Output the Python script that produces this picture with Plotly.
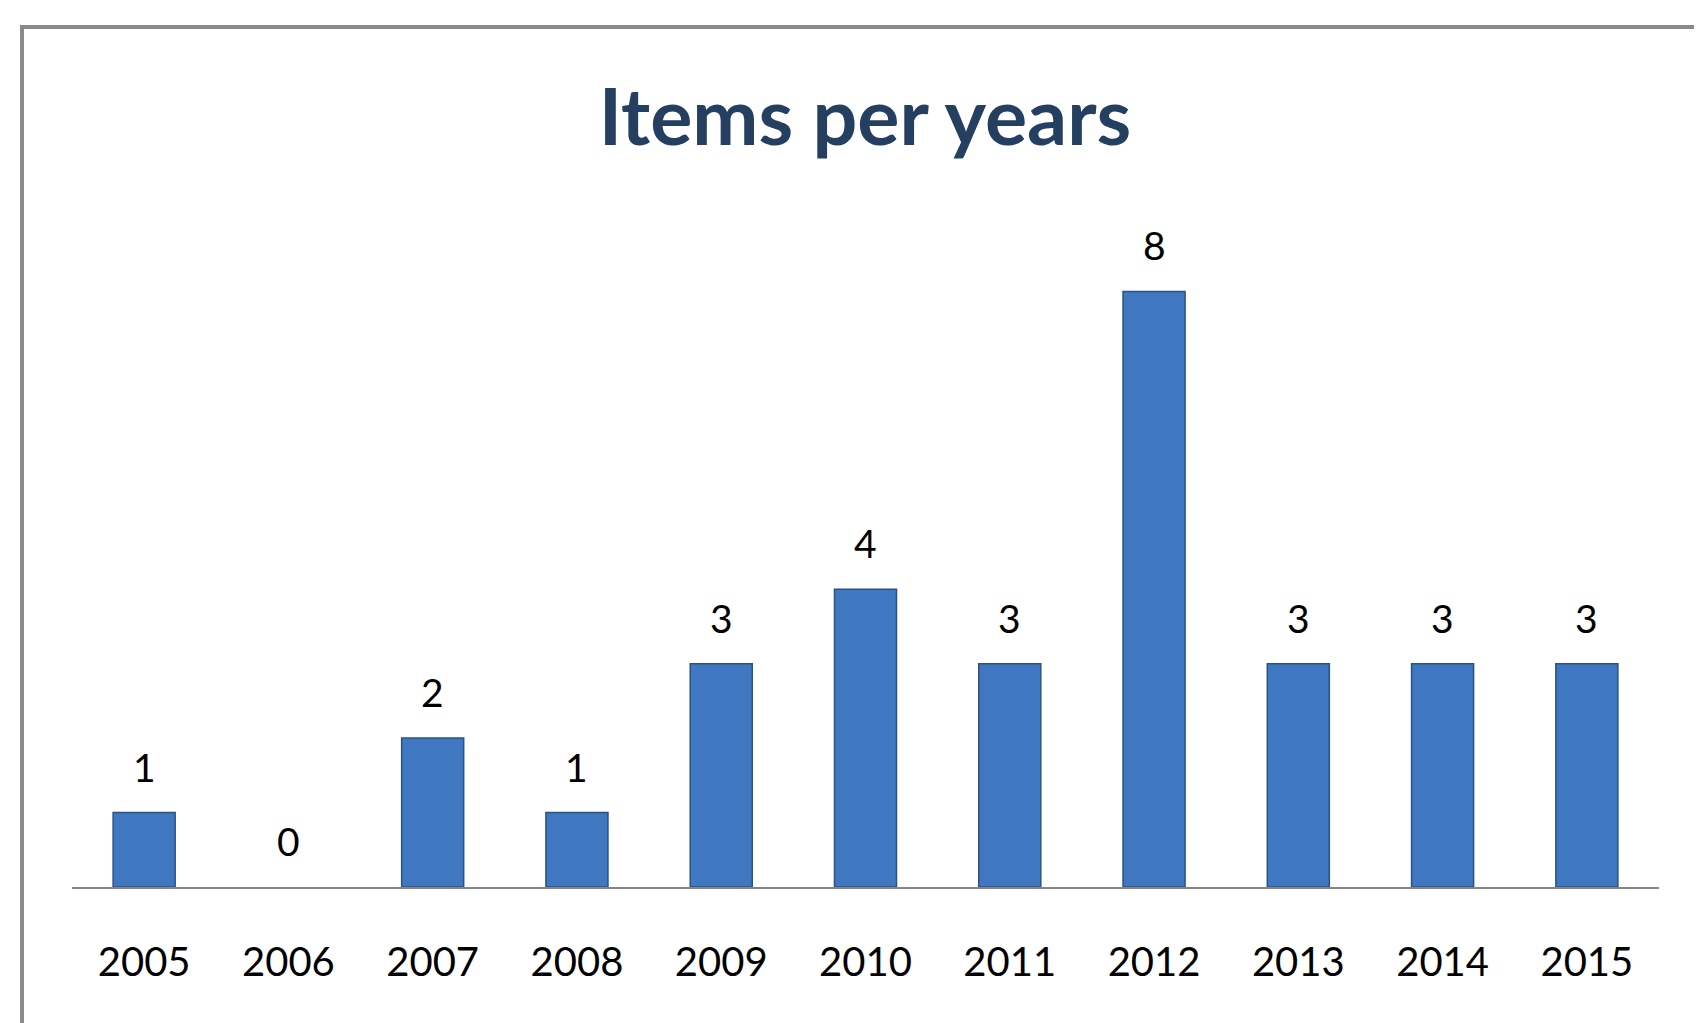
import plotly.graph_objects as go

years = ["2005", "2006", "2007", "2008", "2009", "2010", "2011", "2012", "2013", "2014", "2015"]
counts = [1, 0, 2, 1, 3, 4, 3, 8, 3, 3, 3]
title_text = "Items per years"

W, H = 1702, 1023
OFF = 8  # default page body margin
ML, MR, MT, MB = 72 - OFF, 43 + OFF, 217 - OFF, 136 + OFF
plot_w = W - ML - MR
plot_h = H - MT - MB

fig = go.Figure()
fig.add_trace(go.Bar(
    x=list(range(len(years))), y=counts,
    width=0.43,
    marker=dict(color="#3F77C0",
                line=dict(color="#2A5288", width=[1.5 if v > 0 else 0 for v in counts])),
    hovertext=years, hoverinfo="text+y",
))

# data labels above each bar
for i, v in enumerate(counts):
    fig.add_annotation(x=i, y=v, xref="x", yref="y", text=str(v), showarrow=False,
                       yshift=46, yanchor="middle",
                       font=dict(family="Lato", size=39, color="#000000"))

def px_to_paper_x(px):
    return (px - OFF - ML) / plot_w

def px_to_paper_y(py):
    return (H - MB - (py - OFF)) / plot_h

# outer frame (cropped at right/bottom like the reference)
fig.add_shape(type="rect", xref="paper", yref="paper",
              x0=px_to_paper_x(22), x1=px_to_paper_x(W + 60),
              y0=px_to_paper_y(H + 60), y1=px_to_paper_y(27),
              line=dict(color="#8A8A8A", width=4), fillcolor="rgba(0,0,0,0)",
              layer="below")

fig.update_layout(
    width=W, height=H,
    margin=dict(l=ML, r=MR, t=MT, b=MB, pad=0),
    paper_bgcolor="white", plot_bgcolor="white",
    showlegend=False,
    title=dict(text="<b>" + title_text + "</b>", xref="container", yref="container",
               x=(865 - OFF) / W, y=1 - (117 - OFF) / H, xanchor="center", yanchor="middle",
               font=dict(family="Lato", size=79, color="#243F60")),
    font=dict(family="Lato", color="#000000"),
    xaxis=dict(type="linear", showline=True, linecolor="#868686", linewidth=2, ticks="",
               showgrid=False, zeroline=False,
               tickmode="array", tickvals=list(range(len(years))), ticktext=years,
               tickfont=dict(family="Lato", size=40, color="#000000"),
               ticklabelstandoff=39, range=[-0.5, len(years) - 0.5]),
    yaxis=dict(range=[0, 9], visible=False, showgrid=False, zeroline=False),
)

fig.write_html("out.html")
